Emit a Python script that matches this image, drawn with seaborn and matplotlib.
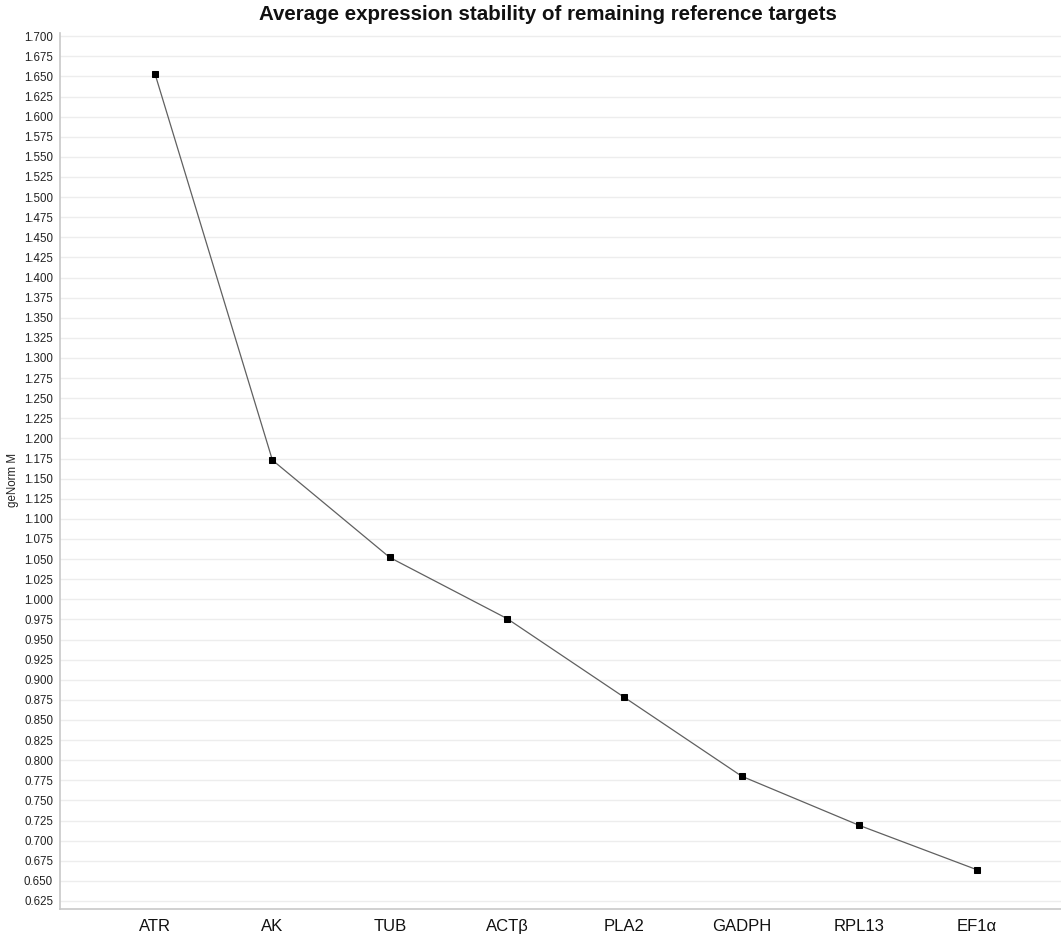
import matplotlib
matplotlib.use("Agg")
import matplotlib.pyplot as plt
import seaborn as sns
import numpy as np
import pandas as pd

genes = ["ATR", "AK", "TUB", "ACTβ", "PLA2", "GADPH", "RPL13", "EF1α"]
m_values = [1.653, 1.173, 1.052, 0.976, 0.878, 0.780, 0.719, 0.664]
y_ticks = np.round(np.arange(0.625, 1.7001, 0.025), 3)

sns.set_theme(style="white")
plt.rcParams['font.family'] = ['Liberation Sans', 'DejaVu Sans']

df = pd.DataFrame({"gene": genes, "M": m_values})

fig = plt.figure(figsize=(10.61, 9.35), dpi=100)
ax = fig.add_axes([60/1061, 26/935, 1.0 - 60/1061, (909-33)/935])

sns.lineplot(data=df, x="gene", y="M", sort=False, ax=ax, color="#606060",
             linewidth=0.9, marker="s", markersize=4, markerfacecolor="black",
             markeredgecolor="black")

ax.set_xlim(-0.81, 7.72)
ax.set_ylim(0.615, 1.704)
ax.set_yticks(y_ticks)
ax.set_yticklabels([f"{t:.3f}" for t in y_ticks], fontsize=8.3, color="#222222")
ax.set_xticks(range(len(genes)))
ax.set_xticklabels(genes, fontsize=12, color="#111111")
ax.yaxis.grid(True, color="#ededed", linewidth=1.0)
ax.xaxis.grid(False)
for s in ["top", "right"]:
    ax.spines[s].set_visible(False)
for s in ["left", "bottom"]:
    ax.spines[s].set_color("#c8c8c8")
    ax.spines[s].set_linewidth(1.2)
ax.tick_params(axis="y", length=3, width=0.8, color="#c8c8c8", pad=2)
ax.tick_params(axis="x", length=3, width=0.8, color="#d8d8d8", pad=4)
ax.set_xlabel("")
ax.set_ylabel("geNorm M", fontsize=8.3, color="#222222")
ax.yaxis.set_label_coords((19 - 60) / 1001, 0.49)

fig.text(548/1061, 1 - 15/935, "Average expression stability of remaining reference targets",
         ha="center", va="center", fontsize=14.8, fontweight="bold", color="#111111")

fig.savefig("out.png", dpi=100)
